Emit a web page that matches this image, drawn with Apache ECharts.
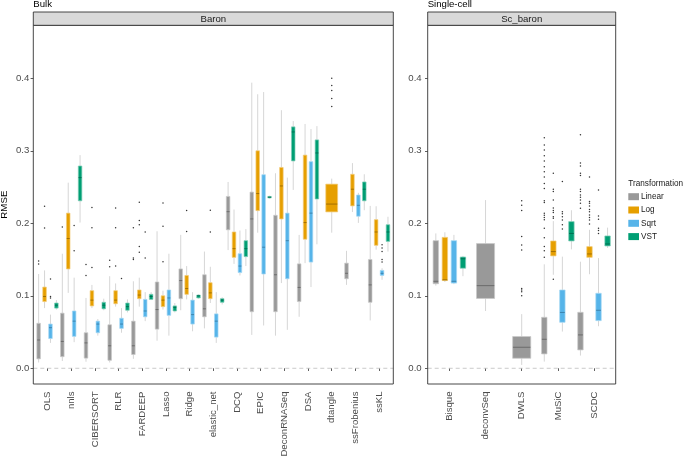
<!DOCTYPE html>
<html><head><meta charset="utf-8">
<script src="https://cdn.jsdelivr.net/npm/echarts@6/dist/echarts.min.js"></script>
<style>html,body{margin:0;padding:0;background:#fff}#c{width:685px;height:457px}</style>
</head><body><div id="c"></div>
<script>
// ---------------- DATA ----------------
const bulkCategories = ['OLS','nnls','CIBERSORT','RLR','FARDEEP','Lasso','Ridge','elastic_net','DCQ','EPIC','DeconRNASeq','DSA','dtangle','ssFrobenius','ssKL'];
const scCategories = ['Bisque','deconvSeq','DWLS','MuSiC','SCDC'];
const transformations = ['Linear','Log','Sqrt','VST'];
const yTicks = [0, 0.1, 0.2, 0.3, 0.4];

// [categoryIndex, lowerWhisker, Q1, median, Q3, upperWhisker]
const bulkLinear = [
  [0,0.008,0.013,0.039,0.062,0.130],[1,0.010,0.016,0.037,0.076,0.158],[2,0.009,0.014,0.035,0.049,0.097],
  [3,0.008,0.011,0.031,0.060,0.127],[4,0.013,0.019,0.031,0.065,0.120],[5,0.038,0.054,0.081,0.119,0.189],
  [6,0.080,0.096,0.121,0.137,0.184],[7,0.055,0.071,0.082,0.129,0.161],[8,0.163,0.191,0.216,0.237,0.257],
  [9,0.046,0.078,0.206,0.243,0.394],[10,0.045,0.078,0.129,0.211,0.269],[11,0.071,0.092,0.1115,0.144,0.184],
  [13,0.115,0.1235,0.131,0.145,0.162],[14,0.066,0.091,0.115,0.150,0.224]
];
const bulkLog = [
  [0,0.083,0.092,0.099,0.112,0.135],[1,0.104,0.137,0.179,0.214,0.256],[2,0.083,0.086,0.094,0.107,0.115],
  [3,0.085,0.089,0.094,0.107,0.117],[4,0.085,0.096,0.101,0.108,0.125],[5,0.081,0.085,0.094,0.100,0.107],
  [6,0.095,0.102,0.110,0.128,0.141],[7,0.090,0.096,0.104,0.118,0.140],[8,0.144,0.153,0.165,0.188,0.219],
  [9,0.187,0.2175,0.241,0.300,0.378],[10,0.1175,0.206,0.2515,0.277,0.356],[11,0.145,0.178,0.201,0.294,0.337],
  [12,0.187,0.2157,0.2265,0.254,0.2616],[13,0.2155,0.224,0.247,0.2676,0.283],[14,0.1636,0.1696,0.188,0.205,0.2235]
];
const bulkSqrt = [
  [0,0.035,0.041,0.056,0.061,0.074],[1,0.036,0.044,0.065,0.079,0.125],[2,0.045,0.049,0.061,0.065,0.068],
  [3,0.049,0.055,0.061,0.069,0.083],[4,0.065,0.071,0.079,0.095,0.105],[5,0.045,0.073,0.097,0.108,0.158],
  [6,0.051,0.061,0.074,0.094,0.105],[7,0.035,0.043,0.065,0.075,0.105],[8,0.128,0.132,0.141,0.158,0.190],
  [9,0.059,0.130,0.167,0.267,0.381],[10,0.053,0.1235,0.176,0.214,0.263],[11,0.112,0.1465,0.214,0.285,0.330],
  [13,0.2005,0.2097,0.2248,0.239,0.242],[14,0.122,0.128,0.131,0.135,0.138]
];
const bulkVST = [
  [0,0.081,0.083,0.087,0.090,0.094],[1,0.201,0.231,0.263,0.279,0.294],[2,0.080,0.082,0.087,0.091,0.096],
  [3,0.077,0.080,0.085,0.090,0.095],[4,0.094,0.095,0.099,0.102,0.105],[5,0.077,0.079,0.084,0.086,0.090],
  [6,0.096,0.097,0.100,0.101,0.102],[7,0.088,0.091,0.094,0.096,0.098],[8,0.141,0.154,0.165,0.176,0.192],
  [9,0.234,0.235,0.236,0.237,0.238],[10,0.246,0.286,0.326,0.333,0.341],[11,0.171,0.2335,0.297,0.315,0.334],
  [13,0.218,0.231,0.247,0.257,0.2676],[14,0.161,0.175,0.188,0.198,0.209]
];
// outliers: [categoryIndex, value]
const bulkLinearOut = [[0,0.148],[0,0.144],[1,0.195],[2,0.143],[2,0.128],[3,0.149],[3,0.140],[4,0.194],[4,0.152],[4,0.150]];
const bulkLogOut = [[0,0.2235],[0,0.1935],[2,0.2216],[2,0.194],[2,0.139],[3,0.221],[3,0.194],[3,0.141],
  [4,0.229],[4,0.204],[4,0.198],[4,0.168],[4,0.160],[5,0.228],[5,0.196],[5,0.147],[6,0.2175],[6,0.1885],
  [7,0.218],[7,0.188],[12,0.400],[12,0.390],[12,0.383],[12,0.372],[12,0.361]];
const bulkSqrtOut = [[0,0.123],[0,0.099],[0,0.097],[1,0.197],[1,0.162],[3,0.124],[4,0.188],[4,0.152],
  [14,0.1705],[14,0.166],[14,0.161],[14,0.150],[14,0.1465]];
const bulkVSTOut = [];

const scLinear = [
  [0,0.114,0.1166,0.120,0.176,0.186],[1,0.079,0.0963,0.114,0.172,0.232],[2,0.0046,0.0138,0.029,0.0438,0.0747],
  [3,0.0092,0.0198,0.040,0.0703,0.1434],[4,0.0175,0.0253,0.046,0.0772,0.147]
];
const scLog = [[0,0.119,0.121,0.122,0.1806,0.1876],[3,0.129,0.155,0.161,0.1756,0.203],[4,0.1297,0.153,0.1577,0.1678,0.191]];
const scSqrt = [[0,0.116,0.1175,0.120,0.176,0.184],[3,0.0506,0.0634,0.077,0.108,0.154],[4,0.058,0.0657,0.080,0.1034,0.152]];
const scVST = [[0,0.127,0.138,0.151,0.1535,0.155],[3,0.164,0.1756,0.186,0.2023,0.218],[4,0.166,0.1687,0.1715,0.1825,0.194]];

const scLinearOut = [[2,0.231],[2,0.225],[2,0.2175],[2,0.1816],[2,0.170],[2,0.163],[2,0.110],[2,0.108],[2,0.1057],[2,0.100],
  [3,0.318],[3,0.308],[3,0.301],[3,0.293],[3,0.286],[3,0.278],[3,0.271],[3,0.264],[3,0.255],[3,0.248],[3,0.231],[3,0.2285],
  [3,0.214],[3,0.211],[3,0.208],[3,0.205],[3,0.193],[3,0.180],[3,0.168],[3,0.162],[3,0.153],
  [4,0.322],[4,0.283],[4,0.279],[4,0.269],[4,0.266],[4,0.247],[4,0.244],[4,0.239],[4,0.236],[4,0.232],[4,0.2276],[4,0.2207]];
const scLogOut = [[3,0.269],[3,0.247],[3,0.244],[3,0.232],[3,0.221],[3,0.2175],[3,0.215],[3,0.209],[3,0.207],[3,0.1228],
  [4,0.264],[4,0.230],[4,0.2276],[4,0.224],[4,0.219],[4,0.216],[4,0.2115],[4,0.208],[4,0.2046],[4,0.199]];
const scSqrtOut = [[3,0.2575],[3,0.216],[3,0.213],[3,0.209],[3,0.2046],[3,0.198],[3,0.192],
  [4,0.246],[4,0.210],[4,0.2055],[4,0.193],[4,0.190],[4,0.186]];
const scVSTOut = [];

// ---------------- STYLE / LAYOUT ----------------
const FONT = '"Liberation Sans", Arial, Helvetica, sans-serif';
const COLORS = ['#999999','#E69F00','#56B4E9','#009E73'];
const EDGES = ['#C8C8C8','#F2CC7A','#A6D8F4','#7FCDB8'];
const MEDIANS = ['#666666','#9A6A00','#3A7EA6','#006B4F'];
const WHISKER = '#D6D6D6';
const YMIN = -0.0217, YMAX = 0.4731;
const TOP = 25.3, BOTTOM = 384, STRIP_TOP = 12;
const EXP = 0.6, SLOT = 0.25, MULTI_W = 0.15, SINGLE_W = 0.5;
const panels = [
  {x0: 33.3, x1: 393.3, cats: bulkCategories, strip: 'Baron', tag: 'Bulk', labelMargin: 4,
   sets: [bulkLinear, bulkLog, bulkSqrt, bulkVST], outs: [bulkLinearOut, bulkLogOut, bulkSqrtOut, bulkVSTOut]},
  {x0: 427.7, x1: 615.7, cats: scCategories, strip: 'Sc_baron', tag: 'Single-cell', labelMargin: 6,
   sets: [scLinear, scLog, scSqrt, scVST], outs: [scLinearOut, scLogOut, scSqrtOut, scVSTOut]}
];

const grids = [], xAxes = [], yAxes = [], series = [], graphics = [];
panels.forEach((p, pi) => {
  const n = p.cats.length;
  const band = (p.x1 - p.x0) / (n - 1 + 2 * EXP);
  const pad = (EXP - 0.5) * band;
  grids.push({left: p.x0 + pad, width: (p.x1 - p.x0) - 2 * pad, top: TOP, height: BOTTOM - TOP,
    containLabel: false, outerBoundsMode: 'none'});
  xAxes.push({type: 'category', gridIndex: pi, data: p.cats, boundaryGap: true,
    axisLine: {show: false},
    axisTick: {show: true, alignWithLabel: true, length: 2.7, lineStyle: {color: '#333', width: 0.8}},
    axisLabel: {rotate: 90, interval: 0, margin: 7.5, fontSize: 9.6, color: '#4D4D4D', fontFamily: FONT},
    splitLine: {show: false}});
  const ya = {type: 'value', gridIndex: pi, min: YMIN, max: YMAX, offset: pad,
    axisLine: {show: false}, splitLine: {show: false},
    axisTick: {show: true, customValues: yTicks, length: 2.7, lineStyle: {color: '#333', width: 0.8}},
    axisLabel: {customValues: yTicks, formatter: v => v.toFixed(1), margin: p.labelMargin, fontSize: 9.6, color: '#4D4D4D', fontFamily: FONT}};
  if (pi === 0) {
    ya.name = 'RMSE'; ya.nameLocation = 'middle'; ya.nameGap = 24; ya.nameMoveOverlap = false;
    ya.nameTextStyle = {fontSize: 9.7, color: '#000', fontFamily: FONT};
  }
  yAxes.push(ya);

  // number of transformations present per category
  const counts = p.cats.map((c, ci) => p.sets.filter(s => s.some(d => d[0] === ci)).length);

  // zero reference line
  series.push({type: 'custom', xAxisIndex: pi, yAxisIndex: pi, data: [[0, 0]], encode: {x: 0, y: 1}, silent: true, z: 1,
    renderItem: (params, api) => {
      const y = api.coord([0, 0])[1];
      const cs = params.coordSys;
      return {type: 'line', shape: {x1: cs.x - pad, y1: y, x2: cs.x + cs.width + pad, y2: y},
        style: {stroke: '#BDBDBD', lineWidth: 0.8, lineDash: [4, 3]}};
    }});

  transformations.forEach((t, k) => {
    const outs = p.outs[k];
    series.push({type: 'custom', name: t, xAxisIndex: pi, yAxisIndex: pi, data: p.sets[k],
      encode: {x: 0, y: [1, 2, 3, 4, 5]}, itemStyle: {color: COLORS[k]}, silent: true, z: 2,
      renderItem: (params, api) => {
        const cat = api.value(0);
        const bw = api.size([1, 0])[0];
        const single = counts[cat] === 1;
        const cx = api.coord([cat, 0])[0] + (single ? 0 : (k - 1.5) * SLOT * bw);
        const w = (single ? SINGLE_W : MULTI_W) * bw;
        const Y = v => api.coord([cat, v])[1];
        const lo = Y(api.value(1)), q1 = Y(api.value(2)), md = Y(api.value(3)), q3 = Y(api.value(4)), hi = Y(api.value(5));
        const children = [
          {type: 'line', shape: {x1: cx, y1: hi, x2: cx, y2: q3}, style: {stroke: WHISKER, lineWidth: 1}},
          {type: 'line', shape: {x1: cx, y1: q1, x2: cx, y2: lo}, style: {stroke: WHISKER, lineWidth: 1}},
          {type: 'rect', shape: {x: cx - w / 2, y: q3, width: w, height: Math.max(q1 - q3, 0.8)},
            style: {fill: COLORS[k], stroke: EDGES[k], lineWidth: 0.7}},
          {type: 'line', shape: {x1: cx - w / 2 + 0.3, y1: md, x2: cx + w / 2 - 0.3, y2: md}, style: {stroke: MEDIANS[k], lineWidth: 0.9}}
        ];
        outs.filter(o => o[0] === cat).forEach(o => {
          children.push({type: 'circle', shape: {cx: cx, cy: Y(o[1]), r: 0.75}, style: {fill: '#333'}});
        });
        return {type: 'group', children};
      }});
  });

  // panel border, strip, labels
  graphics.push({type: 'rect', shape: {x: p.x0, y: TOP, width: p.x1 - p.x0, height: BOTTOM - TOP},
    style: {fill: 'none', stroke: '#333', lineWidth: 0.9}, z: 10, silent: true});
  graphics.push({type: 'rect', shape: {x: p.x0, y: STRIP_TOP, width: p.x1 - p.x0, height: TOP - STRIP_TOP},
    style: {fill: '#D9D9D9', stroke: '#333', lineWidth: 0.9}, z: 10, silent: true});
  graphics.push({type: 'text', x: (p.x0 + p.x1) / 2, y: (STRIP_TOP + TOP) / 2 + 0.3,
    style: {text: p.strip, fill: '#1A1A1A', font: '9.6px ' + FONT, align: 'center', verticalAlign: 'middle'}, z: 11, silent: true});
  graphics.push({type: 'text', x: p.x0, y: 4.6,
    style: {text: p.tag, fill: '#000', font: '9.6px ' + FONT, align: 'left', verticalAlign: 'middle'}, z: 11, silent: true});
});

const chart = echarts.init(document.getElementById('c'), null, {renderer: 'canvas'});
chart.setOption({
  animation: false,
  backgroundColor: '#fff',
  title: {text: 'Transformation', left: 628.3, top: 179.5, padding: 0,
    textStyle: {fontSize: 8.2, fontWeight: 'normal', color: '#1A1A1A', fontFamily: FONT}},
  legend: {data: transformations, orient: 'vertical', left: 628.3, top: 191.7, padding: 0,
    icon: 'rect', itemWidth: 10.7, itemHeight: 7, itemGap: 3.3, selectedMode: false,
    textStyle: {fontSize: 8.2, lineHeight: 10, color: '#1A1A1A', fontFamily: FONT, padding: [0, 0, 0, -3]}},
  grid: grids, xAxis: xAxes, yAxis: yAxes, series: series, graphic: graphics
});
</script></body></html>
